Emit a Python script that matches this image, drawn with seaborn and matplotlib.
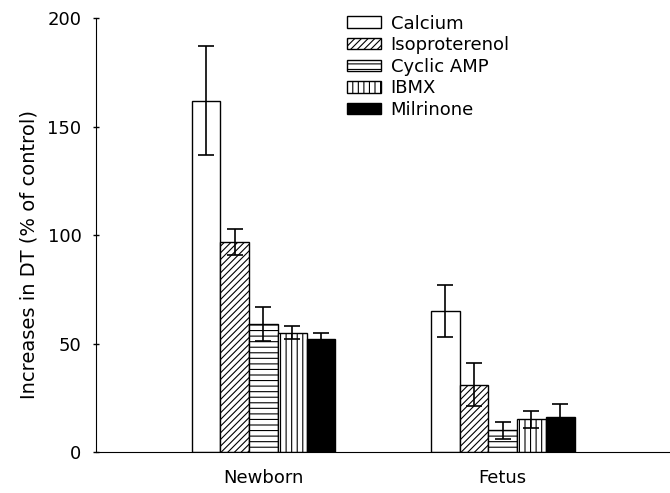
import numpy as np
import pandas as pd
import matplotlib
matplotlib.use('Agg')
import matplotlib.pyplot as plt
from matplotlib.patches import Patch
import seaborn as sns

# --- Data ---
groups = ['Newborn', 'Fetus']
agents = ['Calcium', 'Isoproterenol', 'Cyclic AMP', 'IBMX', 'Milrinone']
newborn_mean = [162, 97, 59, 55, 52]
newborn_err = [25, 6, 8, 3, 3]
fetus_mean = [65, 31, 10, 15, 16]
fetus_err = [12, 10, 4, 4, 6]

df = pd.DataFrame({
    'group': np.repeat(groups, len(agents)),
    'agent': agents * len(groups),
    'value': newborn_mean + fetus_mean,
    'err': newborn_err + fetus_err,
})

sns.set_style('ticks')
plt.rcParams['font.family'] = ['DejaVu Sans']
plt.rcParams['hatch.linewidth'] = 0.8
plt.rcParams['text.color'] = 'black'
plt.rcParams['axes.labelcolor'] = 'black'
plt.rcParams['xtick.color'] = 'black'
plt.rcParams['ytick.color'] = 'black'
plt.rcParams['axes.edgecolor'] = 'black'

fig = plt.figure(figsize=(6.7, 4.93), dpi=100)
ax = fig.add_axes([0.1433, 0.0832, 0.857, 0.880])

sns.barplot(data=df, x='group', y='value', hue='agent', order=groups,
            hue_order=agents, width=0.6, errorbar=None, ax=ax,
            edgecolor='black', linewidth=1.0, legend=False)

fills = ['white', 'white', 'white', 'white', 'black']
hatches = [None, '/////', '---', '|||', None]
for cont, fc, h in zip(ax.containers, fills, hatches):
    for bar in cont:
        bar.set_facecolor(fc)
        bar.set_edgecolor('black')
        if h:
            bar.set_hatch(h)

# error bars at bar centres
for cont, agent in zip(ax.containers, agents):
    for bar, g in zip(cont, groups):
        row = df[(df.group == g) & (df.agent == agent)].iloc[0]
        xc = bar.get_x() + bar.get_width() / 2
        ax.errorbar(xc, row['value'], yerr=row['err'], color='black',
                    capsize=5.5, elinewidth=1.2, capthick=1.2, fmt='none')

ax.set_xlim(-0.70, 1.70)
ax.set_ylim(0, 200)
ax.set_yticks([0, 50, 100, 150, 200])
ax.tick_params(axis='y', direction='inout', length=5, width=1, labelsize=13, pad=8)
ax.tick_params(axis='x', length=0, labelsize=13, pad=12)
ax.set_xlabel('')
ax.set_ylabel('Increases in DT (% of control)', fontsize=14)
ax.yaxis.set_label_coords(-0.100, 0.455)
sns.despine(ax=ax)

handles = [Patch(facecolor=fc, edgecolor='black', hatch=h, label=a)
           for fc, h, a in zip(fills, hatches, agents)]
ax.legend(handles=handles, loc='upper left', bbox_to_anchor=(0.425, 1.025),
          frameon=False, fontsize=13, handlelength=1.85, handleheight=0.6,
          handletextpad=0.55, labelspacing=0.2, borderaxespad=0)

fig.savefig('out.png', dpi=100)
